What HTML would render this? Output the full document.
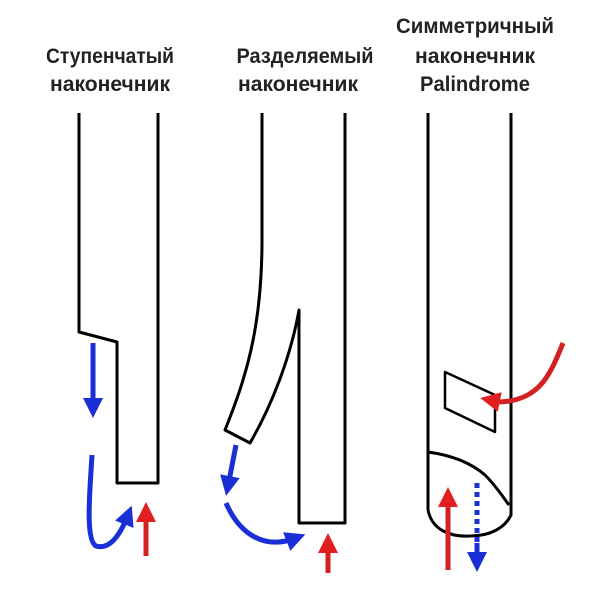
<!DOCTYPE html>
<html><head><meta charset="utf-8"><style>html,body{margin:0;padding:0;background:#fff}svg{display:block}</style></head>
<body>
<svg width="610" height="597" viewBox="0 0 610 597" xmlns="http://www.w3.org/2000/svg">
<defs>
<marker id="bh" markerWidth="4" markerHeight="4" refX="2" refY="2" orient="auto" markerUnits="strokeWidth"><path d="M0,0 L4,2 L0,4 z" fill="#1a2fd6"/></marker>
<marker id="rh" markerWidth="4" markerHeight="4" refX="2" refY="2" orient="auto" markerUnits="strokeWidth"><path d="M0,0 L4,2 L0,4 z" fill="#e02020"/></marker>
</defs>
<g font-family="Liberation Sans, sans-serif" font-weight="bold" font-size="21" fill="#222" text-anchor="middle">
<text x="110" y="63" textLength="128" lengthAdjust="spacingAndGlyphs">Ступенчатый</text>
<text x="110" y="91" textLength="120" lengthAdjust="spacingAndGlyphs">наконечник</text>
<text x="305" y="63" textLength="137" lengthAdjust="spacingAndGlyphs">Разделяемый</text>
<text x="298" y="91" textLength="120" lengthAdjust="spacingAndGlyphs">наконечник</text>
<text x="475" y="33" textLength="158" lengthAdjust="spacingAndGlyphs">Симметричный</text>
<text x="475" y="63" textLength="120" lengthAdjust="spacingAndGlyphs">наконечник</text>
<text x="475" y="91" textLength="110" lengthAdjust="spacingAndGlyphs">Palindrome</text>
</g>
<g fill="none" stroke="#000" stroke-width="3" stroke-linejoin="round">
<path d="M79,113 V332 L117,342 V483 H158 V113"/>
<path d="M262,113 V240 C262,330 245,380 225,430 L250,443 C275,400 292,350 299,310 V523 H345 V113"/>
<path d="M428,113 V510 C432,530 450,537 470,536 C490,536 505,528 511,515 V113"/>
<path d="M428,452 C450,455 470,462 485,475 C497,487 505,500 509,505"/>
<path d="M445,372 L495,395 V432 L445,408 Z" stroke-width="2.5"/>
</g>
<g fill="none" stroke-width="5" stroke-linecap="butt">
<path d="M93,343 V408" stroke="#1a2fd6" marker-end="url(#bh)"/>
<path d="M92,455 C90,490 85,540 96,546 C110,550 120,535 128,515" stroke="#1a2fd6" marker-end="url(#bh)"/>
<path d="M146,556 V512" stroke="#d42020" marker-end="url(#rh)"/>
<path d="M236,445 L228,486" stroke="#1a2fd6" marker-end="url(#bh)"/>
<path d="M226,503 C240,535 265,550 296,538" stroke="#1a2fd6" marker-end="url(#bh)"/>
<path d="M328,573 V543" stroke="#d42020" marker-end="url(#rh)"/>
<path d="M563,343 C550,375 540,400 500,402 L490,400" stroke="#d42020" marker-end="url(#rh)"/>
<path d="M448,570 V497" stroke="#d42020" marker-end="url(#rh)"/>
<path d="M477,483 V543" stroke="#1a2fd6" stroke-dasharray="5,4"/>
<path d="M477,543 V562" stroke="#1a2fd6" marker-end="url(#bh)"/>
</g>
</svg>
</body></html>
